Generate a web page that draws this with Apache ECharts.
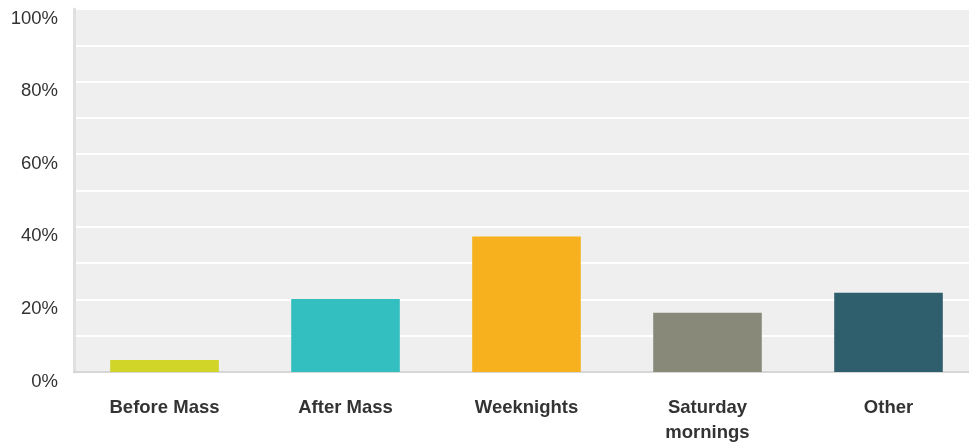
<!DOCTYPE html>
<html><head><meta charset="utf-8">
<script src="https://cdn.jsdelivr.net/npm/echarts@6/dist/echarts.min.js"></script>
<style>html,body{margin:0;padding:0;background:#fff}#c{width:969px;height:445px}</style>
</head><body><div id="c"></div>
<script>
const categories = ['Before Mass', 'After Mass', 'Weeknights', 'Saturday\nmornings', 'Other'];
const values = [3.3, 20.1, 37.3, 16.3, 21.8];
const colors = ['#D0D527', '#33BEBF', '#F7B11F', '#89897A', '#2F5F6D'];
const yTicks = [0, 20, 40, 60, 80, 100];

const chart = echarts.init(document.getElementById('c'));
chart.setOption({
  animation: false,
  grid: { left: 74, width: 905, top: 9, height: 363, outerBoundsMode: 'none', containLabel: false, show: true, backgroundColor: '#EFEFEF', borderWidth: 0 },
  xAxis: {
    type: 'category', data: categories,
    axisLine: { show: true, lineStyle: { color: '#D6D6D6', width: 2 } },
    axisTick: { show: false },
    axisLabel: { color: '#333', fontSize: 18.5, fontWeight: 'bold', fontFamily: 'Liberation Sans, Arial, sans-serif', margin: 23, lineHeight: 25, verticalAlign: 'top', interval: 0 }
  },
  yAxis: {
    type: 'value', min: 0, max: 100, interval: 10,
    axisLine: { show: true, lineStyle: { color: '#E0E0E0', width: 3 } },
    axisTick: { show: false },
    splitLine: { show: true, lineStyle: { color: '#FFFFFF', width: 2 } },
    axisLabel: {
      color: '#333', fontSize: 18.5, fontFamily: 'Liberation Sans, Arial, sans-serif', margin: 16, verticalAlign: 'top',
      formatter: v => yTicks.includes(v) ? v + '%' : ''
    }
  },
  series: [{
    type: 'bar', barWidth: '60%',
    data: values.map((v, i) => ({ value: v, itemStyle: { color: colors[i] } }))
  }]
});
</script></body></html>
